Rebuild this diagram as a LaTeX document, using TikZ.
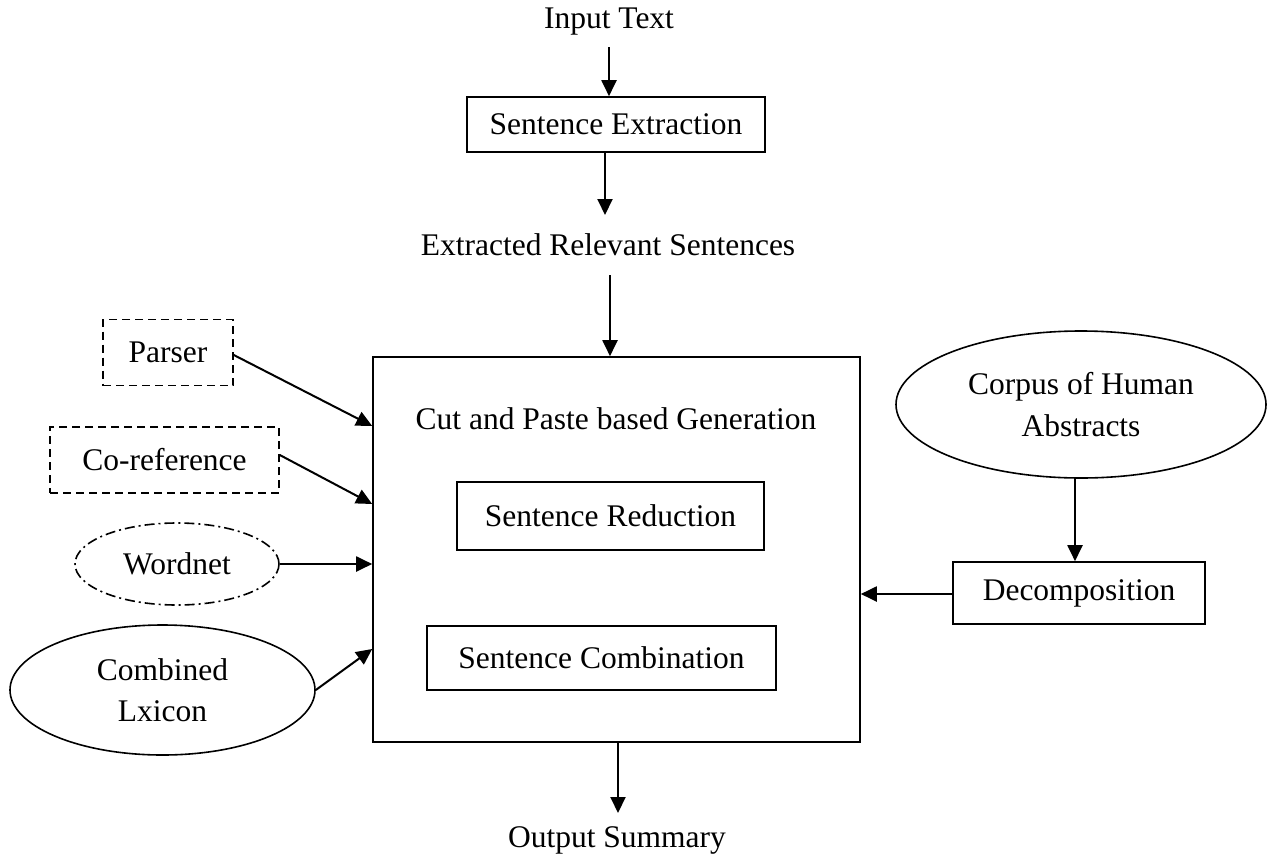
\documentclass[tikz,border=0pt]{standalone}
\usepackage{fontspec}
\setmainfont{Liberation Serif}
\usetikzlibrary{shapes.geometric,arrows.meta}
\begin{document}
\begin{tikzpicture}[x=1pt,y=-1pt,
  every node/.style={font=\fontsize{31.5}{41.5}\selectfont, inner sep=0pt, align=center},
  box/.style={draw, line width=1.6pt, rectangle},
  dbox/.style={box, dash pattern=on 8pt off 5pt},
  oval/.style={draw, line width=1.6pt, ellipse},
  doval/.style={oval, dash pattern=on 10pt off 4pt on 2pt off 4pt},
  arr/.style={line width=2pt, -{Triangle[length=16pt,width=15pt]}}
]
\useasboundingbox (0,0) rectangle (1269,854);

% main pipeline
\node (input) at (609,22) {Input Text};
\node[box, minimum width=298pt, minimum height=55pt] (extract) at (616,124.5) {Sentence Extraction};
\node (relevant) at (608,245) {Extracted Relevant Sentences};
\node[box, minimum width=487pt, minimum height=385pt] (main) at (616.5,549.5) {};
\node (cutpaste) at (616,419) {Cut and Paste based Generation};
\node[box, minimum width=307pt, minimum height=68pt] (reduce) at (610.5,516) {Sentence Reduction};
\node[box, minimum width=349pt, minimum height=64pt] (combine) at (601.5,658) {Sentence Combination};
\node (output) at (617,840) {Output Summary};

% left-hand resources
\node[dbox, minimum width=130pt, minimum height=66pt] (parser) at (168,352.5) {Parser};
\node[dbox, minimum width=229pt, minimum height=66pt] (coref) at (164.5,460) {Co-reference};
\node[doval, minimum width=204pt, minimum height=82pt] (wordnet) at (177,564) {Wordnet};
\node[oval, minimum width=305pt, minimum height=130pt] (lexicon) at (162.5,690) {Combined\\Lxicon};

% right-hand resources
\node[oval, minimum width=370pt, minimum height=147pt] (corpus) at (1081,404.5) {Corpus of Human\\Abstracts};
\node[box, minimum width=252pt, minimum height=62pt] (decomp) at (1079,593) {Decomposition};

% free ends next to the plain text labels
\coordinate (inBot) at (609,47);
\coordinate (relTop) at (605,215);
\coordinate (relBot) at (610,275);
\coordinate (outTop) at (618,813);

% connector end points on the main box
\coordinate (mParser) at (main.west |- 0,426);
\coordinate (mCoref) at (main.west |- 0,504);
\coordinate (mLex) at (main.west |- 0,649);
\coordinate (mTop) at (main.north -| relBot);
\coordinate (mBot) at (main.south -| outTop);

\draw[arr] (inBot) -- (extract.north -| inBot);
\draw[arr] (extract.south -| relTop) -- (relTop);
\draw[arr] (relBot) -- (mTop);
\draw[arr] (mBot) -- (outTop);
\draw[arr] (parser.east |- 0,355) -- (mParser);
\draw[arr] (coref.east |- 0,455) -- (mCoref);
\draw[arr] (wordnet.east) -- (main.west |- wordnet.east);
\draw[arr] (lexicon.east) -- (mLex);
\draw[arr] (corpus.south -| 1075,0) -- (decomp.north -| 1075,0);
\draw[arr] (decomp.west |- 0,594) -- (main.east |- 0,594);
\end{tikzpicture}
\end{document}
